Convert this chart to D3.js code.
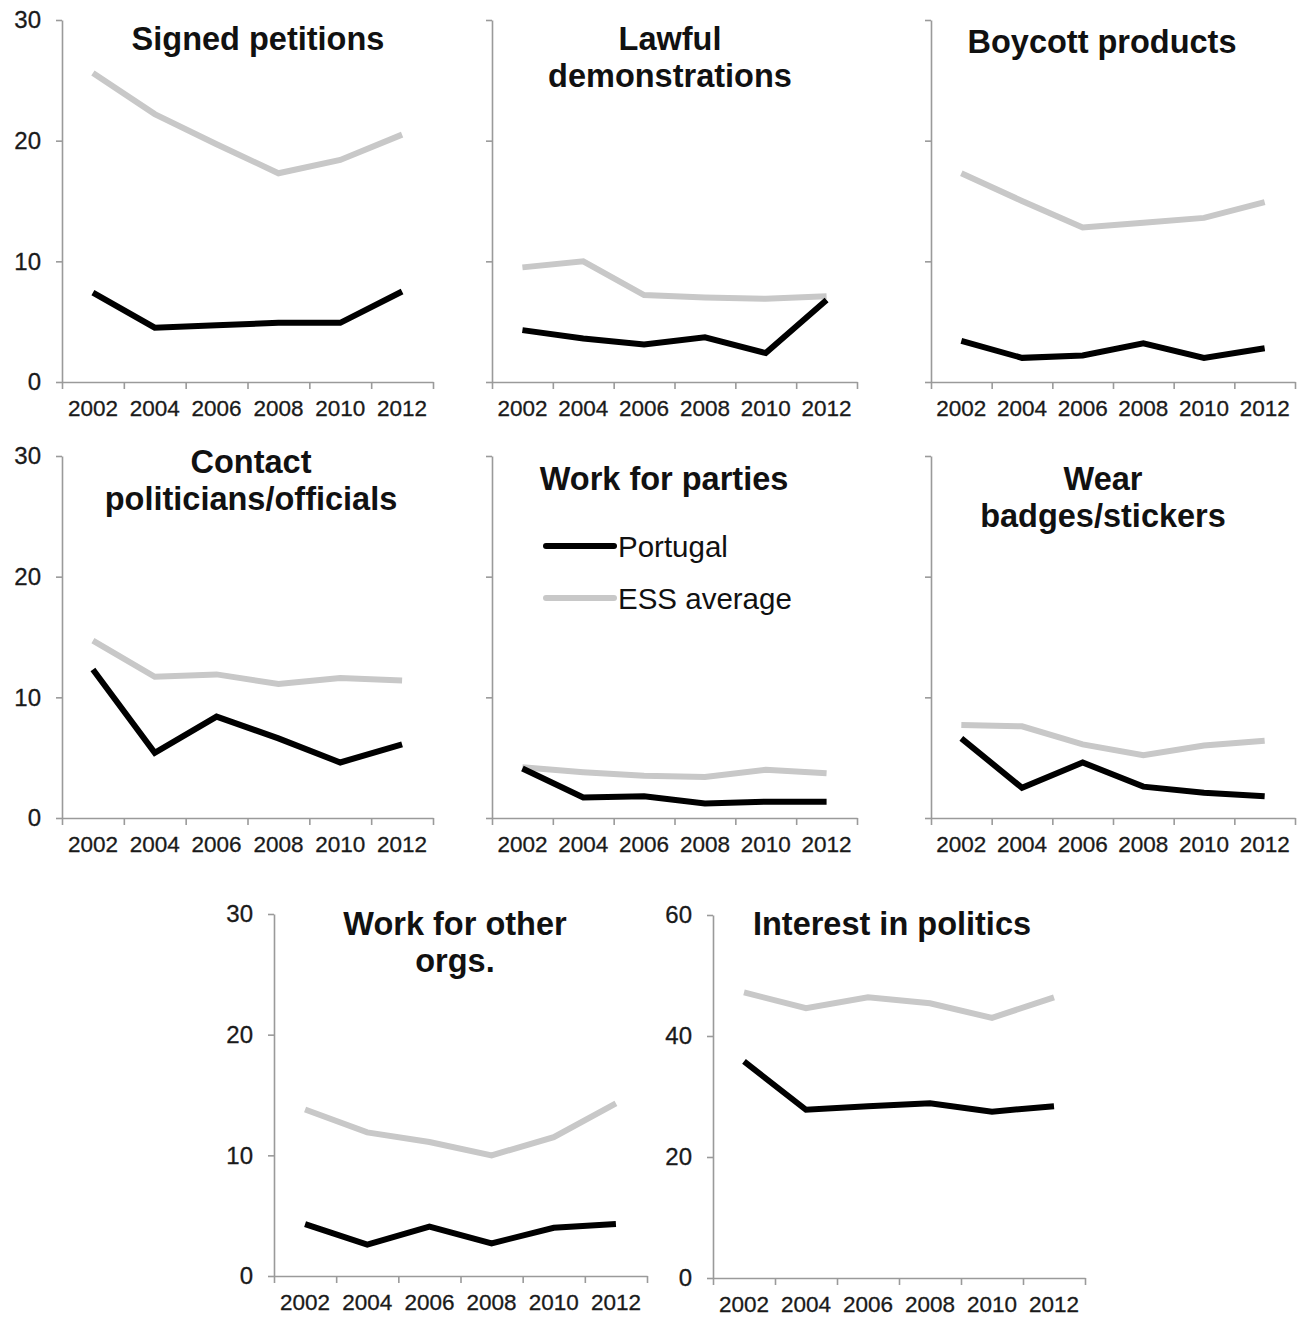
<!DOCTYPE html>
<html>
<head>
<meta charset="utf-8">
<script src="https://cdn.jsdelivr.net/npm/d3@7"></script>
<style>
  body { margin: 0; background: #fff; }
  text { font-family: "Liberation Sans", Arial, sans-serif; }
</style>
</head>
<body>
<svg id="chart" width="1301" height="1317"></svg>
<script>
// survey years (x categories)
var years = ["2002", "2004", "2006", "2008", "2010", "2012"];

// panel titles (one entry per line)
var titles = [
    ["Signed petitions"],
    ["Lawful", "demonstrations"],
    ["Boycott products"],
    ["Contact", "politicians/officials"],
    ["Work for parties"],
    ["Wear", "badges/stickers"],
    ["Work for other", "orgs."],
    ["Interest in politics"]
];

// Portugal values, %
var portugal = [
    [7.4, 4.5, 4.7, 4.9, 4.9, 7.5],
    [4.3, 3.6, 3.1, 3.7, 2.4, 6.8],
    [3.4, 2.0, 2.2, 3.2, 2.0, 2.8],
    [12.3, 5.4, 8.4, 6.6, 4.6, 6.1],
    [4.1, 1.7, 1.8, 1.2, 1.35, 1.35],
    [6.6, 2.5, 4.6, 2.6, 2.1, 1.8],
    [4.3, 2.6, 4.1, 2.7, 4.0, 4.3],
    [35.8, 27.8, 28.4, 28.9, 27.5, 28.4]
];

// ESS average values, %
var essAverage = [
    [25.6, 22.2, 19.7, 17.3, 18.4, 20.5],
    [9.5, 10.0, 7.2, 7.0, 6.9, 7.1],
    [17.3, 15.0, 12.8, 13.2, 13.6, 14.9],
    [14.7, 11.7, 11.9, 11.1, 11.6, 11.4],
    [4.2, 3.8, 3.5, 3.4, 4.0, 3.7],
    [7.7, 7.6, 6.1, 5.2, 6.0, 6.4],
    [13.8, 11.9, 11.1, 10.0, 11.5, 14.3],
    [47.2, 44.6, 46.4, 45.4, 43.0, 46.4]
];

// y tick values per panel
var yTicks = [
    [0, 10, 20, 30], [0, 10, 20, 30], [0, 10, 20, 30],
    [0, 10, 20, 30], [0, 10, 20, 30], [0, 10, 20, 30],
    [0, 10, 20, 30], [0, 20, 40, 60]
];

var seriesNames = ["Portugal", "ESS average"];

// layout of each panel on the page
var layout = [
    {x0: 62,  x1: 433,  top: 20,  zero: 382,  showY: true,  tx: 258,  ty: 50},
    {x0: 492, x1: 857,  top: 20,  zero: 382,  showY: false, tx: 670,  ty: 50},
    {x0: 931, x1: 1295, top: 20,  zero: 382,  showY: false, tx: 1102, ty: 53},
    {x0: 62,  x1: 433,  top: 456, zero: 818,  showY: true,  tx: 251,  ty: 473},
    {x0: 492, x1: 857,  top: 456, zero: 818,  showY: false, tx: 664,  ty: 490},
    {x0: 931, x1: 1295, top: 456, zero: 818,  showY: false, tx: 1103, ty: 490},
    {x0: 274, x1: 647,  top: 914, zero: 1276, showY: true,  tx: 455,  ty: 935},
    {x0: 713, x1: 1085, top: 915, zero: 1278, showY: true,  tx: 892,  ty: 935}
];

var black = "#000000";
var grey = "#c8c8c8";
var axisGrey = "#9a9a9a";

var svg = d3.select("#chart");

var drawPanel = function(i) {
    var L = layout[i];
    var g = svg.append("g");

    var xBand = d3.scaleBand().domain(years).range([L.x0, L.x1]);
    var xTick = d3.scaleLinear().domain([0, years.length]).range([L.x0, L.x1]);
    var yMax = d3.max(yTicks[i]);
    var yScale = d3.scaleLinear().domain([0, yMax]).range([L.zero, L.top]);

    // y axis
    var yAxis = d3.axisLeft(yScale)
        .tickValues(yTicks[i])
        .tickSize(6)
        .tickSizeOuter(0)
        .tickPadding(15)
        .tickFormat(L.showY ? d3.format("d") : function() { return ""; });
    var ya = g.append("g")
        .attr("transform", "translate(" + L.x0 + ",0)")
        .call(yAxis);
    ya.selectAll("path, line").attr("stroke", axisGrey).attr("stroke-width", 1.6);
    ya.selectAll("text")
        .attr("font-size", 24)
        .attr("fill", "#1a1a1a")
        .attr("stroke", "#1a1a1a")
        .attr("stroke-width", 0.3);

    // x axis tick marks at category boundaries
    var xa = g.append("g")
        .attr("transform", "translate(0," + L.zero + ")")
        .call(d3.axisBottom(xTick).tickValues(d3.range(years.length + 1))
            .tickSize(7).tickSizeOuter(0).tickFormat(function() { return ""; }));
    xa.selectAll("path, line").attr("stroke", axisGrey).attr("stroke-width", 1.6);

    // x labels, centred in each category
    var xl = g.append("g")
        .attr("transform", "translate(0," + L.zero + ")")
        .call(d3.axisBottom(xBand).tickSize(0).tickPadding(18));
    xl.select(".domain").remove();
    xl.selectAll("text")
        .attr("font-size", 22.5)
        .attr("fill", "#1a1a1a")
        .attr("stroke", "#1a1a1a")
        .attr("stroke-width", 0.3);

    var line = d3.line()
        .x(function(d, j) { return xBand(years[j]) + xBand.bandwidth() / 2; })
        .y(function(d) { return yScale(d); });

    g.append("path")
        .datum(essAverage[i])
        .attr("d", line)
        .attr("fill", "none")
        .attr("stroke", grey)
        .attr("stroke-width", 6);

    g.append("path")
        .datum(portugal[i])
        .attr("d", line)
        .attr("fill", "none")
        .attr("stroke", black)
        .attr("stroke-width", 6);

    // title
    g.append("text")
        .attr("x", L.tx)
        .attr("y", L.ty)
        .attr("text-anchor", "middle")
        .attr("font-size", 32.5)
        .attr("font-weight", "bold")
        .attr("fill", "#111")
        .selectAll("tspan")
        .data(titles[i])
        .enter()
        .append("tspan")
        .attr("x", L.tx)
        .attr("dy", function(d, k) { return k === 0 ? 0 : 37; })
        .text(function(d) { return d; });
};

for (var i = 0; i < titles.length; i++) {
    drawPanel(i);
}

// legend, inside the "Work for parties" panel
var legend = svg.append("g");
var legendColors = [black, grey];
var legendY = d3.scalePoint().domain(seriesNames).range([546, 598]);
seriesNames.forEach(function(name, k) {
    legend.append("line")
        .attr("x1", 546).attr("x2", 614)
        .attr("y1", legendY(name)).attr("y2", legendY(name))
        .attr("stroke", legendColors[k])
        .attr("stroke-width", 6)
        .attr("stroke-linecap", "round");
    legend.append("text")
        .attr("x", 618)
        .attr("y", legendY(name))
        .attr("dy", "0.36em")
        .attr("font-size", 29.5)
        .attr("fill", "#111")
        .text(name);
});
</script>
</body>
</html>
